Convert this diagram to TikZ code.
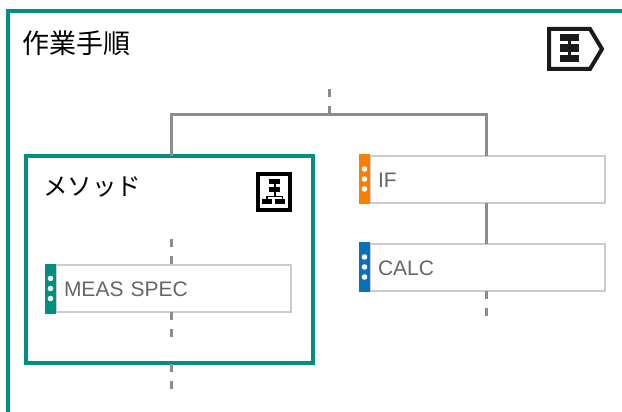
\documentclass[tikz,border=0pt]{standalone}
\usepackage{fontspec}
\setmainfont{Liberation Sans}
\newfontfamily\cjk{Noto Sans CJK JP}
\usetikzlibrary{calc}
\definecolor{frameteal}{HTML}{008F80}
\definecolor{linegray}{HTML}{8C8C8C}
\definecolor{boxgray}{HTML}{CCCCCC}
\definecolor{textgray}{HTML}{666666}
\definecolor{barorange}{HTML}{F97F00}
\definecolor{barblue}{HTML}{0A71B9}
\definecolor{iconblack}{HTML}{1A1A1A}
\tikzset{
    frameline/.style={draw=frameteal, line width=4pt},
    flowline/.style={draw=linegray, line width=3pt},
    flowdash/.style={draw=linegray, line width=3pt, dash pattern=on 8pt off 9pt},
    stepbox/.style={draw=boxgray, line width=2pt, fill=white, outer sep=0pt,
        minimum height=47pt, inner xsep=8pt, text width=219pt, align=left,
        text height=16pt, text depth=0pt,
        text=textgray, font=\fontsize{21}{24}\selectfont},
    stepbar/.style={fill=#1, minimum width=11pt, minimum height=50pt, inner sep=0pt, outer sep=0pt, anchor=east},
    headtext/.style={inner sep=0pt, anchor=west, text=black, font=\fontsize{#1}{30}\selectfont\cjk},
    grip/.pic={
        \foreach \dy in {-10,0,10}
            \fill[white] (0,\dy) circle (2.8pt);
    }
}
\begin{document}
\begin{tikzpicture}[x=1pt,y=-1pt]
    \useasboundingbox (0,0) rectangle (622,412);

    \coordinate (corebot) at (7.5,412);
    \coordinate (coretop) at (7.5,11.5);
    \coordinate (coreend) at (622,11.5);
    \draw[frameline] (corebot) -- (coretop) -- (coreend);

    \node[headtext=27] (coretitle) at (22.5,43) {作業手順};

    \coordinate (flowin) at (329.5,89);
    \coordinate (flowjoin) at (329.5,115);
    \coordinate (forkl) at (171,115);
    \coordinate (forkr) at (486,115);

    \node[frameline, minimum width=287pt, minimum height=207pt, inner sep=0pt, outer sep=0pt] (methframe) at (169.5,259.5) {};
    \node[headtext=24.5] (methtitle) at (43,187) {メソッド};

    \node[stepbox] (measbox) at (173.5,288.5) {MEAS SPEC};
    \node[stepbar=frameteal] (measbar) at (measbox.west) {};
    \node[stepbox] (ifbox) at (487.5,179) {IF};
    \node[stepbar=barorange] (ifbar) at (ifbox.west) {};
    \node[stepbox] (calcbox) at (487.5,267) {CALC};
    \node[stepbar=barblue] (calcbar) at (calcbox.west) {};

    \pic at (measbar) {grip};
    \pic at (ifbar) {grip};
    \pic at (calcbar) {grip};

    \draw[flowdash] (flowin) -- (flowjoin);
    \draw[flowline] (methframe.north -| forkl) -- (forkl) -- (forkr) -- (ifbox.north -| forkr);
    \draw[flowline] (ifbox.south -| forkr) -- (calcbox.north -| forkr);

    \coordinate (calcout) at (486,316);
    \draw[flowdash] (calcbox.south -| calcout) -- (calcout);

    \coordinate (measin) at (171,239);
    \coordinate (measout) at (171,337);
    \coordinate (methout) at (171,390);
    \draw[flowdash] (measin) -- (measbox.north -| measin);
    \draw[flowdash] (measbox.south -| measout) -- (measout);
    \draw[flowdash] (methframe.south -| methout) ++(0,1) -- (methout);

    \draw[iconblack, line width=4pt, miter limit=10] (549,29) -- (590,29) -- (602,49) -- (590,69) -- (549,69) -- cycle;
    \fill[iconblack] (560,34) rectangle (579,41.5);
    \fill[iconblack] (560,44) rectangle (579,52);
    \fill[iconblack] (560,55) rectangle (579,62);
    \fill[iconblack] (568,34) rectangle (571,62);

    \draw[black, line width=3.5pt] (258,174) rectangle (290,210);
    \fill[black] (269,179) rectangle (280,184);
    \fill[black] (269,187) rectangle (280,192);
    \fill[black] (273.5,179) rectangle (275.5,197);
    \fill[black] (266,195.5) rectangle (283,197);
    \fill[black] (266,195.5) rectangle (267.5,200);
    \fill[black] (281.5,195.5) rectangle (283,200);
    \fill[black] (262,199) rectangle (272,203.5);
    \fill[black] (275,199) rectangle (285,203.5);
\end{tikzpicture}
\end{document}
